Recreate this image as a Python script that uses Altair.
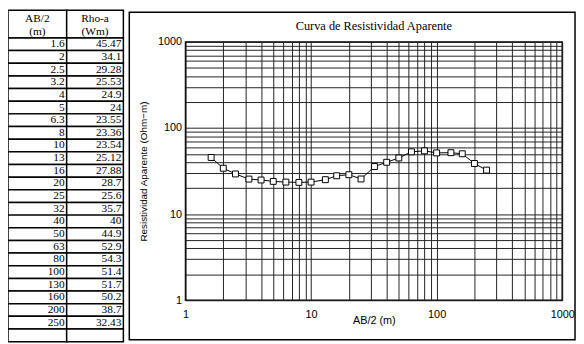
import altair as alt
import pandas as pd

# ---- data ----
ab_m = [1.6, 2, 2.5, 3.2, 4, 5, 6.3, 8, 10, 13, 16, 20, 25, 32, 40, 50, 63, 80, 100, 130, 160, 200, 250]
rho_a = [45.47, 34.1, 29.28, 25.53, 24.9, 24, 23.55, 23.36, 23.54, 25.12, 27.88, 28.7, 25.6, 35.7,
         40, 44.9, 52.9, 54.3, 51.4, 51.7, 50.2, 38.7, 32.43]
header_line1 = ["AB/2", "Rho-a"]
header_line2 = ["(m)", "(Wm)"]
grid_values = [1, 2, 3, 4, 5, 6, 7, 8, 9, 10, 20, 30, 40, 50, 60, 70, 80, 90, 100,
               200, 300, 400, 500, 600, 700, 800, 900, 1000]
decade_labels = [1, 10, 100, 1000]
title_text = "Curva de Resistividad Aparente"
x_title = "AB/2 (m)"
y_title = "Resistividad Aparente (Ohm\u2212m)"

# ---- tables built from the arrays ----
curve = pd.DataFrame({"ab": ab_m, "rho": rho_a})

cell_rows = []
for c in range(2):
    cell_rows.append({"row": -1, "col": c, "t1": header_line1[c], "t2": header_line2[c], "text": "", "kind": "head"})
for i in range(len(ab_m) + 1):  # one trailing empty row as in the sheet
    vals = [f"{ab_m[i]:g}", f"{rho_a[i]:g}"] if i < len(ab_m) else ["", ""]
    for c in range(2):
        cell_rows.append({"row": i, "col": c, "t1": "", "t2": "", "text": vals[c], "kind": "body"})
cells = pd.DataFrame(cell_rows)
cells["row_end"] = cells["row"] + 1
cells["row_mid"] = cells["row"] + 0.5
cells["col_end"] = cells["col"] + 1
cells["col_mid"] = cells["col"] + 0.5

# table placement scales (pixel ranges relative to the plot area)
tx = alt.Scale(domain=[0, 1, 2], range=[-180, -120.5, -63], zero=False, nice=False)
ty = alt.Scale(domain=[-1, 0, len(ab_m) + 1], range=[-32, -4, 304], zero=False, nice=False)

serif = "Liberation Serif"
sans = "Liberation Sans"

table_rect = alt.Chart(cells).mark_rect(fill="white", stroke="black", strokeWidth=1.5).encode(
    x=alt.X("col:Q", scale=tx, axis=None),
    x2="col_end:Q",
    y=alt.Y("row:Q", scale=ty, axis=None),
    y2="row_end:Q",
)
table_body = alt.Chart(cells).transform_filter(alt.datum.kind == "body").mark_text(
    font=serif, fontSize=11.5, align="right", baseline="middle", dx=-2, color="black"
).encode(
    x=alt.X("col_end:Q", scale=tx, axis=None),
    y=alt.Y("row_mid:Q", scale=ty, axis=None),
    text="text:N",
)
head_base = alt.Chart(cells).transform_filter(alt.datum.kind == "head")
table_head1 = head_base.mark_text(
    font=serif, fontSize=11.5, align="center", baseline="middle", dy=9, color="black"
).encode(
    x=alt.X("col_mid:Q", scale=tx, axis=None),
    y=alt.Y("row:Q", scale=ty, axis=None),
    text="t1:N",
)
table_head2 = head_base.mark_text(
    font=serif, fontSize=11.5, align="center", baseline="middle", dy=22, color="black"
).encode(
    x=alt.X("col_mid:Q", scale=tx, axis=None),
    y=alt.Y("row:Q", scale=ty, axis=None),
    text="t2:N",
)
table = alt.layer(table_rect, table_body, table_head1, table_head2)

# ---- log-log chart ----
label_expr = "indexof(" + str(decade_labels) + ", datum.value) >= 0 ? datum.label : ''"
xs = alt.Scale(type="log", domain=[1, 1000], nice=False)
ys = alt.Scale(type="log", domain=[1, 1000], nice=False)
common = dict(values=grid_values, labelExpr=label_expr, format="d", grid=True, gridColor="#222",
              gridWidth=1, domain=False, ticks=False, labelOverlap=False, labelFlush=False,
              labelFont=sans, labelFontSize=11, labelColor="black",
              titleFont=sans, titleFontWeight="normal", titleColor="black")
x_axis = alt.Axis(title=x_title, labelPadding=9, titleY=21, titleBaseline="middle",
                  titleFontSize=11, **common)
y_axis = alt.Axis(title=y_title, labelPadding=4, titleX=-43, titleY=131, titleAngle=270,
                  titleAlign="center", titleBaseline="middle", titleFontSize=10, **common)

frame = alt.Chart(pd.DataFrame({"k": [0]})).mark_rect(
    fillOpacity=0, stroke="black", strokeWidth=1.5
).encode(x=alt.value(-57), x2=alt.value(395), y=alt.value(-30), y2=alt.value(302))

title = alt.Chart(pd.DataFrame({"t": [title_text]})).mark_text(
    font=serif, fontSize=12.5, color="black", align="center", baseline="middle"
).encode(x=alt.value(191), y=alt.value(-16), text="t:N")

line = alt.Chart(curve).mark_line(color="black", strokeWidth=1).encode(
    x=alt.X("ab:Q", scale=xs, axis=x_axis),
    y=alt.Y("rho:Q", scale=ys, axis=y_axis),
)
pts = alt.Chart(curve).mark_point(
    shape="square", size=36, filled=True, fill="white", stroke="black", strokeWidth=1, opacity=1
).encode(x=alt.X("ab:Q", scale=xs), y=alt.Y("rho:Q", scale=ys))

plot = alt.layer(frame, title, line, pts)

chart = alt.layer(table, plot).resolve_scale(x="independent", y="independent").properties(
    width=382, height=262,
    background="white",
    autosize=alt.AutoSizeParams(type="none"),
    padding={"left": 180, "top": 32, "right": 14, "bottom": 42},
).configure_view(stroke="black", strokeWidth=1.5)

chart.save("out.html", embed_options={"renderer": "svg", "actions": False})
